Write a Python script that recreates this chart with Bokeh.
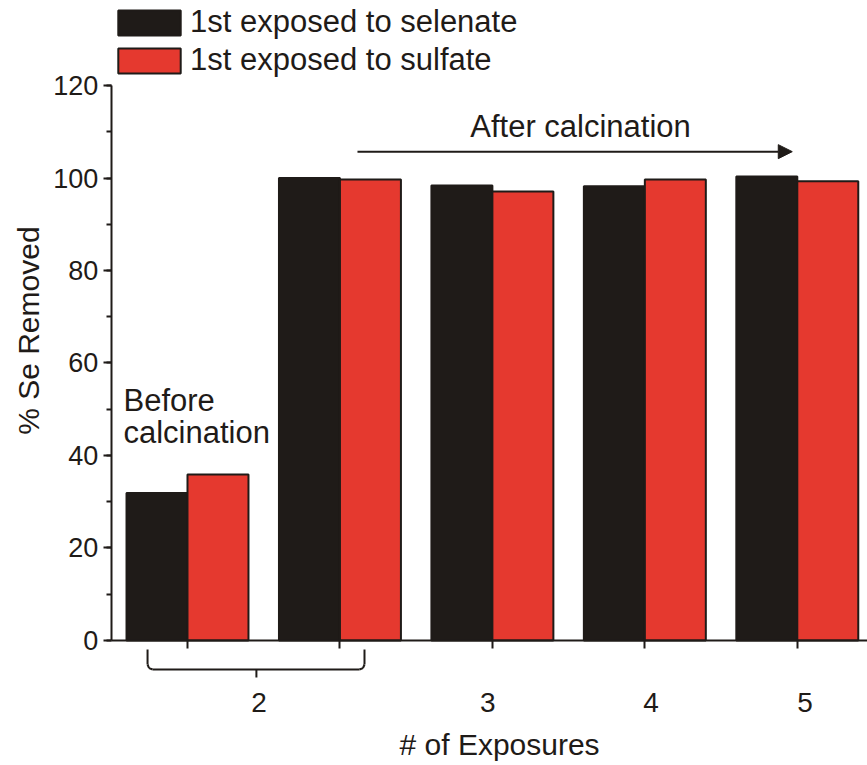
import math

from bokeh.plotting import figure
from bokeh.models import (ColumnDataSource, Range1d, FixedTicker, SingleIntervalTicker,
                          Legend, LegendItem, Label, Arrow, NormalHead)
from bokeh.embed import file_html
from bokeh.resources import INLINE

# Se removal per exposure; the first "2" group is before calcination
groups = ["2 (before calcination)", "2", "3", "4", "5"]
selenate_first = [31.9, 100.0, 98.4, 98.2, 100.3]
sulfate_first = [35.9, 99.7, 97.1, 99.7, 99.3]
exposure_labels = ["2", "3", "4", "5"]
exposure_label_x = [0.47, 1.97, 3.04, 4.05]
series_names = ["1st exposed to selenate", "1st exposed to sulfate"]

FONT = "Liberation Sans"
INK = "#1f1b18"
RED = "#e5392f"
BAR_W = 0.4
W, H = 867, 765

idx = list(range(len(groups)))
src = ColumnDataSource(dict(
    x_sel=[i - BAR_W / 2 for i in idx],
    x_sul=[i + BAR_W / 2 for i in idx],
    sel=selenate_first,
    sul=sulfate_first,
))

# The frame fills the canvas; axes are pinned at x=-0.5 and y=0 so that the
# legend, brace and labels around the plot area stay drawable.
p = figure(width=W, height=H, output_backend="svg", toolbar_location=None,
           title=None,
           x_range=Range1d(-1.2266, 4.4605), y_range=Range1d(-27.03, 138.38),
           min_border_left=0, min_border_right=0, min_border_top=0,
           min_border_bottom=0)
p.outline_line_color = None
p.grid.grid_line_color = None
p.background_fill_color = "white"
p.border_fill_color = "white"

r_sel = p.vbar(x="x_sel", top="sel", width=BAR_W, source=src,
               fill_color=INK, line_color=INK, line_width=2)
r_sul = p.vbar(x="x_sul", top="sul", width=BAR_W, source=src,
               fill_color=RED, line_color=INK, line_width=2)

# y axis
yax = p.yaxis[0]
yax.fixed_location = -0.5
yax.bounds = (0, 120)
yax.ticker = SingleIntervalTicker(interval=20, num_minor_ticks=2)
yax.major_label_text_font = FONT
yax.major_label_text_font_size = "27px"
yax.major_label_text_color = INK
yax.major_label_standoff = 5
yax.axis_line_width = 2
yax.axis_line_color = INK
yax.major_tick_line_width = 2
yax.major_tick_line_color = INK
yax.minor_tick_line_width = 2
yax.minor_tick_line_color = INK
yax.major_tick_in = 0
yax.major_tick_out = 8
yax.minor_tick_in = 0
yax.minor_tick_out = 5

p.add_layout(Label(x=-1.043, y=67.0, text="% Se Removed", text_font=FONT,
                   text_font_size="30px", text_color=INK, angle=math.pi / 2,
                   text_align="center", text_baseline="middle"))

# x axis: ticks at group centres, exposure numbers below
xax = p.xaxis[0]
xax.fixed_location = 0
xax.bounds = (-0.5, 4.4605)
xax.ticker = FixedTicker(ticks=idx)
xax.major_label_overrides = {i: "" for i in idx}
xax.minor_tick_line_color = None
xax.axis_line_width = 2
xax.axis_line_color = INK
xax.major_tick_line_width = 2
xax.major_tick_line_color = INK
xax.major_tick_in = 0
xax.major_tick_out = 8

for lab, lx in zip(exposure_labels, exposure_label_x):
    p.add_layout(Label(x=lx, y=-13.4, text=lab, text_font=FONT,
                       text_font_size="28px", text_color=INK,
                       text_align="center", text_baseline="middle"))

p.add_layout(Label(x=2.047, y=-22.5, text="# of Exposures", text_font=FONT,
                   text_font_size="30px", text_color=INK,
                   text_align="center", text_baseline="alphabetic"))

# brace grouping both exposure-2 groups
L, R, C = -0.262, 1.161, 0.452
yt, yb, ys = -1.95, -6.27, -8.0
dx, dy = 0.033, 1.08
brace = ColumnDataSource(dict(
    x0=[L, L, L + 0.01, L + dx, C, R - dx, R - 0.01, R],
    y0=[yt, yb + dy, yb + 0.3, yb, yb, yb, yb + 0.3, yb + dy],
    x1=[L, L + 0.01, L + dx, R - dx, C, R - 0.01, R, R],
    y1=[yb + dy, yb + 0.3, yb, yb, ys, yb + 0.3, yb + dy, yt],
))
p.add_layout(Arrow(end=None, x_start="x0", y_start="y0", x_end="x1", y_end="y1",
                   source=brace, line_color=INK, line_width=2))

# calcination annotations
p.add_layout(Label(x=-0.42, y=51.9, text="Before", text_font=FONT,
                   text_font_size="31px", text_color=INK, text_baseline="alphabetic"))
p.add_layout(Label(x=-0.42, y=45.0, text="calcination", text_font=FONT,
                   text_font_size="31px", text_color=INK, text_baseline="alphabetic"))
p.add_layout(Label(x=2.578, y=111.1, text="After calcination", text_font=FONT,
                   text_font_size="31px", text_color=INK, text_align="center",
                   text_baseline="alphabetic"))
p.add_layout(Arrow(end=NormalHead(size=14, fill_color=INK, line_color=INK),
                   x_start=1.115, y_start=105.7, x_end=3.967, y_end=105.7,
                   line_color=INK, line_width=2))

legend = Legend(items=[LegendItem(label=series_names[0], renderers=[r_sel]),
                       LegendItem(label=series_names[1], renderers=[r_sul])],
                location=(110, 687), orientation="vertical",
                glyph_width=78, glyph_height=31, label_height=31, spacing=2,
                padding=0, margin=0, label_standoff=2,
                label_text_font=FONT, label_text_font_size="31px",
                label_text_color=INK, border_line_alpha=0,
                background_fill_alpha=0)
p.add_layout(legend)

open("out.html", "w").write(file_html(p, INLINE))
